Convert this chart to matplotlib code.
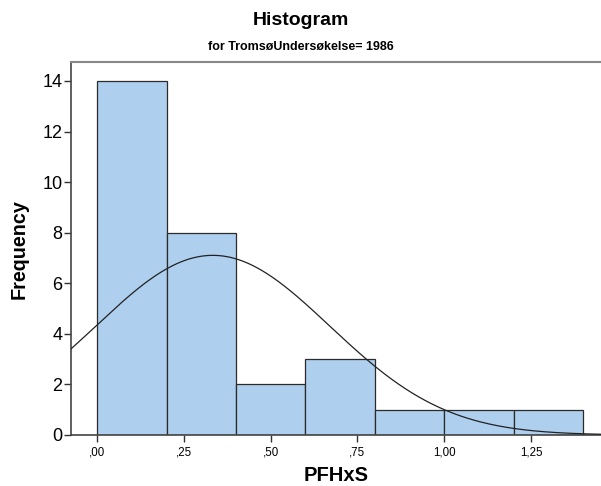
import numpy as np
import matplotlib
matplotlib.use("Agg")
import matplotlib.pyplot as plt

plt.rcParams['font.family'] = ['Liberation Sans', 'DejaVu Sans']

# histogram data
bin_edges = [0.0, 0.2, 0.4, 0.6, 0.8, 1.0, 1.2, 1.4]
counts = [14, 8, 2, 3, 1, 1, 1]
n_total = 30
mean = 0.333
std = 0.337

xticks = [0.0, 0.25, 0.5, 0.75, 1.0, 1.25]
xticklabels = [",00", ",25", ",50", ",75", "1,00", "1,25"]
yticks = [0, 2, 4, 6, 8, 10, 12, 14]

fig = plt.figure(figsize=(6.01, 4.86), dpi=100)
ax = fig.add_axes([0.118, 0.105, 0.882, 0.767])

widths = np.diff(bin_edges)
ax.bar(bin_edges[:-1], counts, width=widths, align='edge',
       color='#aecfee', edgecolor='#2b2b2b', linewidth=0.9, zorder=2)

xs = np.linspace(-0.1, 1.5, 400)
bw = widths[0]
ys = n_total * bw / (std * np.sqrt(2 * np.pi)) * np.exp(-0.5 * ((xs - mean) / std) ** 2)
ax.plot(xs, ys, color='#222222', linewidth=0.9, zorder=3)

ax.set_xlim(-0.076, 1.452)
ax.set_ylim(0, 14.74)
ax.set_xticks(xticks)
ax.set_xticklabels(xticklabels, fontsize=8.3)
ax.set_yticks(yticks)
ax.set_yticklabels([str(v) for v in yticks], fontsize=13)
ax.tick_params(axis='x', direction='out', length=5, width=1, color='#333333', pad=3)
ax.tick_params(axis='y', direction='out', length=5, width=1, color='#333333', pad=1)

ax.spines['right'].set_visible(False)
ax.spines['top'].set_color('#888888')
ax.spines['top'].set_linewidth(1.5)
ax.spines['left'].set_color('#444444')
ax.spines['left'].set_linewidth(1.2)
ax.spines['bottom'].set_color('#444444')
ax.spines['bottom'].set_linewidth(1.2)

ax.set_xlabel("PFHxS", fontsize=14.5, fontweight='bold', labelpad=6)
ax.set_ylabel("Frequency", fontsize=14.2, fontweight='bold', labelpad=10)

fig.text(0.5, 0.958, "Histogram", ha='center', va='center', fontsize=14, fontweight='bold')
fig.text(0.5, 0.903, "for TromsøUndersøkelse= 1986", ha='center', va='center', fontsize=9, fontweight='bold')

fig.savefig("out.png", dpi=100)
